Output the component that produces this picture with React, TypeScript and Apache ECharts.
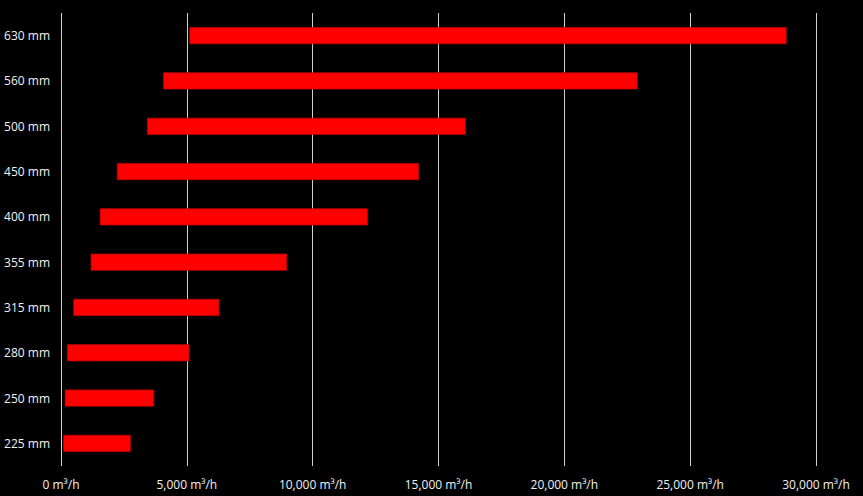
import React, { useEffect, useRef } from "react";
import * as echarts from "echarts";

const categories = ["225 mm", "250 mm", "280 mm", "315 mm", "355 mm", "400 mm", "450 mm", "500 mm", "560 mm", "630 mm"];
const flowMin = [90, 150, 240, 490, 1180, 1540, 2220, 3420, 4060, 5100];
const flowMax = [2770, 3700, 5100, 6290, 8980, 12190, 14220, 16080, 22910, 28830];
const xTicks = { min: 0, max: 30000, interval: 5000 };

export default function App() {
  const ref = useRef<HTMLDivElement>(null);
  useEffect(() => {
    document.body.style.margin = "0";
    document.body.style.background = "#000";
    const chart = echarts.init(ref.current!, null, { renderer: "svg" });
    const span = flowMax.map((v, i) => v - flowMin[i]);
    chart.setOption({
      animation: false,
      backgroundColor: "#000000",
      grid: { left: 61, right: 47, top: 13, bottom: 30, containLabel: false },
      xAxis: {
        type: "value",
        min: xTicks.min,
        max: xTicks.max,
        interval: xTicks.interval,
        axisLine: { show: false },
        axisTick: { show: false },
        splitLine: { show: true, lineStyle: { color: "#d0d0d0", width: 1 } },
        axisLabel: {
          color: "#f2f2f2",
          fontSize: 12,
          fontFamily: "Open Sans",
          margin: 12,
          formatter: (v: number) => v.toLocaleString("en-US") + " m³/h",
        },
      },
      yAxis: {
        type: "category",
        data: categories,
        axisLine: { show: false },
        axisTick: { show: false },
        splitLine: { show: false },
        axisLabel: {
          color: "#f2f2f2",
          fontSize: 12,
          fontFamily: "Open Sans",
          margin: 11,
        },
      },
      series: [
        {
          type: "bar",
          stack: "range",
          data: flowMin,
          itemStyle: { color: "transparent" },
          barWidth: 17,
          silent: true,
        },
        {
          type: "bar",
          stack: "range",
          data: span,
          barWidth: 17,
          itemStyle: { color: "#ff0000", borderColor: "#c00000", borderWidth: 0.75 },
        },
      ],
    });
    return () => chart.dispose();
  }, []);
  return <div ref={ref} style={{ width: 863, height: 496 }} />;
}
